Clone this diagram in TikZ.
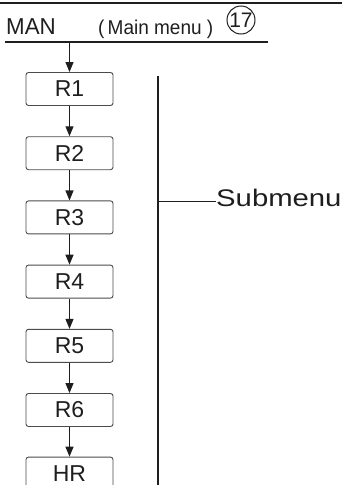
\documentclass[tikz,border=0pt]{standalone}
\usepackage{fontspec}
\setmainfont{Liberation Sans}
\usetikzlibrary{arrows.meta}
\definecolor{ink}{HTML}{1E1E1E}
\begin{document}
\begin{tikzpicture}[x=1pt,y=-1pt,
  menubox/.style={draw=ink!80, line width=0.9pt, rounded corners=2.5pt,
    minimum width=87pt, minimum height=33pt, inner sep=0pt,
    font=\fontsize{23}{26}\selectfont, text=ink},
  flow/.style={draw=ink, line width=1.1pt, -{Triangle[width=8pt,length=10pt]}},
  rulex/.style={draw=ink, line width=1.5pt},
  plain/.style={draw=ink, line width=1.3pt},
  lbl/.style={inner sep=0pt, text=ink}]
\useasboundingbox (0,0) rectangle (342,485);
\clip (0,0) rectangle (342,485);
\draw[rulex] (0,3) -- (342,3);
\node[lbl, anchor=base west, font=\fontsize{23}{26}\selectfont] (man) at (6,34) {\scalebox{0.97}[1]{MAN}};
\node[lbl, anchor=base west, font=\fontsize{20}{23}\selectfont] (mm) at (98,34) {\scalebox{0.95}[1]{(\,Main menu )}};
\node[circle, draw=ink, line width=1pt, minimum size=28pt, inner sep=0pt,
  font=\fontsize{21}{23}\selectfont, text=ink] (num) at (241,20) {17};
\draw[rulex] (5,42) -- (268,42);
\coordinate (top) at (69.5,42);
\node[menubox] (r1) at (69.5,89) {R1};
\node[menubox] (r2) at (69.5,153.2) {R2};
\node[menubox] (r3) at (69.5,217.4) {R3};
\node[menubox] (r4) at (69.5,281.6) {R4};
\node[menubox] (r5) at (69.5,345.8) {R5};
\node[menubox] (r6) at (69.5,410) {R6};
\node[menubox] (hr) at (69.5,473.6) {HR};
\draw[flow] (top) -- (r1);
\draw[flow] (r1) -- (r2);
\draw[flow] (r2) -- (r3);
\draw[flow] (r3) -- (r4);
\draw[flow] (r4) -- (r5);
\draw[flow] (r5) -- (r6);
\draw[flow] (r6) -- (hr);
\coordinate (vtop) at (158,76);
\coordinate (vbot) at (158,486);
\coordinate (vmid) at (158,201.5);
\draw[plain] (vtop) -- (vbot);
\node[lbl, anchor=base west, font=\fontsize{24}{26}\selectfont] (sub) at (216,206)
  {\scalebox{1.22}[1]{Submenu}};
\draw[plain] (vmid) -- (vmid -| sub.west);
\end{tikzpicture}
\end{document}
